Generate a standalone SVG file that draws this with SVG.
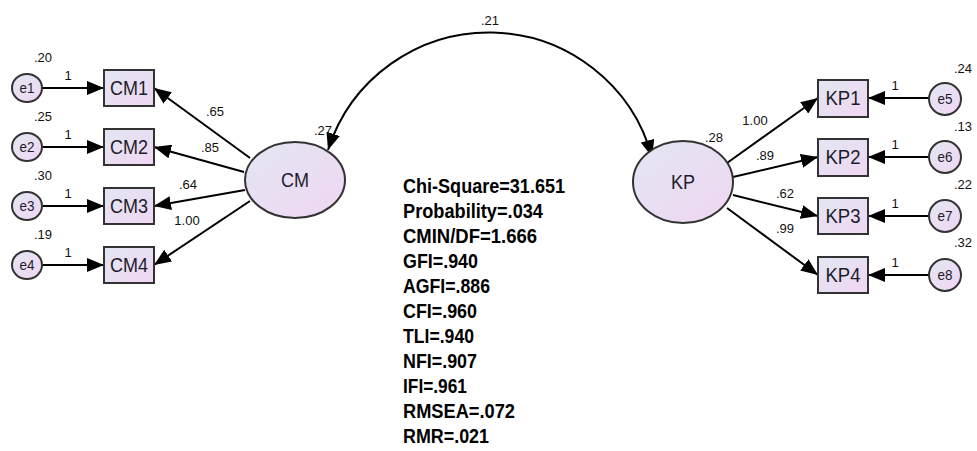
<svg xmlns="http://www.w3.org/2000/svg" width="977" height="451" viewBox="0 0 977 451">
<defs>
<linearGradient id="g" x1="0" y1="0" x2="1" y2="1">
<stop offset="0" stop-color="#e2e7f2"/>
<stop offset="1" stop-color="#f0d6f2"/>
</linearGradient>
<marker id="ah" markerUnits="userSpaceOnUse" markerWidth="18" markerHeight="14" refX="17" refY="7" orient="auto-start-reverse">
<path d="M0,0 L17,7 L0,14 z" fill="#000"/>
</marker>
<style>
.n{fill:url(#g);stroke:#333;stroke-width:2}
.t{font-family:"Liberation Sans",Arial,sans-serif;font-size:20px;fill:#1c1c2c;text-anchor:middle}
.e{font-family:"Liberation Sans",Arial,sans-serif;font-size:15px;fill:#1c1c2c;text-anchor:middle}
.l{font-family:"Liberation Sans",Arial,sans-serif;font-size:13px;fill:#111;text-anchor:middle}
.s{font-family:"Liberation Sans",Arial,sans-serif;font-size:20px;font-weight:bold;fill:#000}
.c{stroke:#000;stroke-width:2;fill:none;marker-end:url(#ah)}
</style>
</defs>
<rect width="977" height="451" fill="#fff"/>
<g id="connectors">
<path class="c" d="M328,150 A169,169 0 0 1 652,157" marker-start="url(#ah)"/>
<line class="c" x1="42" y1="88" x2="104" y2="88"/>
<line class="c" x1="42" y1="147" x2="104" y2="147"/>
<line class="c" x1="42" y1="206" x2="104" y2="206"/>
<line class="c" x1="42" y1="265" x2="104" y2="265"/>
<line class="c" x1="250" y1="158" x2="154" y2="88"/>
<line class="c" x1="244" y1="172" x2="154" y2="147"/>
<line class="c" x1="245" y1="190" x2="154" y2="206"/>
<line class="c" x1="250" y1="201" x2="154" y2="265"/>
<line class="c" x1="727" y1="163" x2="818" y2="98"/>
<line class="c" x1="733" y1="177" x2="818" y2="157"/>
<line class="c" x1="733" y1="195" x2="818" y2="216"/>
<line class="c" x1="727" y1="208" x2="818" y2="275"/>
<line class="c" x1="929" y1="98" x2="868" y2="98"/>
<line class="c" x1="929" y1="157" x2="868" y2="157"/>
<line class="c" x1="929" y1="216" x2="868" y2="216"/>
<line class="c" x1="929" y1="275" x2="868" y2="275"/>
</g>
<g id="labels">
<text class="l" x="490" y="25">.21</text>
<text class="l" x="43" y="62">.20</text>
<text class="l" x="43" y="121">.25</text>
<text class="l" x="43" y="180">.30</text>
<text class="l" x="43" y="239">.19</text>
<text class="l" x="68" y="80">1</text>
<text class="l" x="68" y="139">1</text>
<text class="l" x="68" y="198">1</text>
<text class="l" x="68" y="257">1</text>
<text class="l" x="215" y="116">.65</text>
<text class="l" x="210" y="152">.85</text>
<text class="l" x="188" y="189">.64</text>
<text class="l" x="187" y="225">1.00</text>
<text class="l" x="323" y="135">.27</text>
<text class="l" x="714" y="142">.28</text>
<text class="l" x="755" y="125">1.00</text>
<text class="l" x="765" y="160">.89</text>
<text class="l" x="785" y="198">.62</text>
<text class="l" x="785" y="233">.99</text>
<text class="l" x="963" y="73">.24</text>
<text class="l" x="963" y="131">.13</text>
<text class="l" x="963" y="189">.22</text>
<text class="l" x="963" y="247">.32</text>
<text class="l" x="895" y="90">1</text>
<text class="l" x="895" y="149">1</text>
<text class="l" x="895" y="208">1</text>
<text class="l" x="895" y="267">1</text>
</g>
<g id="e1"><ellipse class="n" cx="27" cy="88" rx="15" ry="14"/><text class="e" x="27" y="93" textLength="15" lengthAdjust="spacingAndGlyphs">e1</text></g>
<g id="e2"><ellipse class="n" cx="27" cy="147" rx="15" ry="14"/><text class="e" x="27" y="152" textLength="15" lengthAdjust="spacingAndGlyphs">e2</text></g>
<g id="e3"><ellipse class="n" cx="27" cy="206" rx="15" ry="14"/><text class="e" x="27" y="211" textLength="15" lengthAdjust="spacingAndGlyphs">e3</text></g>
<g id="e4"><ellipse class="n" cx="27" cy="265" rx="15" ry="14"/><text class="e" x="27" y="270" textLength="15" lengthAdjust="spacingAndGlyphs">e4</text></g>
<g id="CM1"><rect class="n" x="104" y="70" width="50" height="36"/><text class="t" x="129" y="95" textLength="38" lengthAdjust="spacingAndGlyphs">CM1</text></g>
<g id="CM2"><rect class="n" x="104" y="129" width="50" height="36"/><text class="t" x="129" y="154" textLength="38" lengthAdjust="spacingAndGlyphs">CM2</text></g>
<g id="CM3"><rect class="n" x="104" y="188" width="50" height="36"/><text class="t" x="129" y="213" textLength="38" lengthAdjust="spacingAndGlyphs">CM3</text></g>
<g id="CM4"><rect class="n" x="104" y="247" width="50" height="36"/><text class="t" x="129" y="272" textLength="38" lengthAdjust="spacingAndGlyphs">CM4</text></g>
<g id="CM"><ellipse class="n" cx="295" cy="180" rx="50" ry="38"/><text class="t" x="295" y="187" textLength="28" lengthAdjust="spacingAndGlyphs">CM</text></g>
<g id="KP"><ellipse class="n" cx="683" cy="182" rx="50" ry="41"/><text class="t" x="683" y="189" textLength="24" lengthAdjust="spacingAndGlyphs">KP</text></g>
<g id="KP1"><rect class="n" x="818" y="80" width="50" height="37"/><text class="t" x="843" y="105" textLength="35" lengthAdjust="spacingAndGlyphs">KP1</text></g>
<g id="KP2"><rect class="n" x="818" y="139" width="50" height="37"/><text class="t" x="843" y="164" textLength="35" lengthAdjust="spacingAndGlyphs">KP2</text></g>
<g id="KP3"><rect class="n" x="818" y="198" width="50" height="36"/><text class="t" x="843" y="223" textLength="35" lengthAdjust="spacingAndGlyphs">KP3</text></g>
<g id="KP4"><rect class="n" x="818" y="257" width="50" height="36"/><text class="t" x="843" y="282" textLength="35" lengthAdjust="spacingAndGlyphs">KP4</text></g>
<g id="e5"><ellipse class="n" cx="945" cy="99" rx="16" ry="16"/><text class="e" x="945" y="104" textLength="15" lengthAdjust="spacingAndGlyphs">e5</text></g>
<g id="e6"><ellipse class="n" cx="945" cy="157" rx="16" ry="16"/><text class="e" x="945" y="162" textLength="15" lengthAdjust="spacingAndGlyphs">e6</text></g>
<g id="e7"><ellipse class="n" cx="945" cy="216" rx="16" ry="16"/><text class="e" x="945" y="221" textLength="15" lengthAdjust="spacingAndGlyphs">e7</text></g>
<g id="e8"><ellipse class="n" cx="945" cy="275" rx="16" ry="16"/><text class="e" x="945" y="280" textLength="15" lengthAdjust="spacingAndGlyphs">e8</text></g>
<g id="stats">
<text class="s" x="403" y="193" textLength="162" lengthAdjust="spacingAndGlyphs">Chi-Square=31.651</text>
<text class="s" x="403" y="218" textLength="140" lengthAdjust="spacingAndGlyphs">Probability=.034</text>
<text class="s" x="403" y="243" textLength="134" lengthAdjust="spacingAndGlyphs">CMIN/DF=1.666</text>
<text class="s" x="403" y="268" textLength="75" lengthAdjust="spacingAndGlyphs">GFI=.940</text>
<text class="s" x="403" y="293" textLength="87" lengthAdjust="spacingAndGlyphs">AGFI=.886</text>
<text class="s" x="403" y="318" textLength="74" lengthAdjust="spacingAndGlyphs">CFI=.960</text>
<text class="s" x="403" y="343" textLength="71" lengthAdjust="spacingAndGlyphs">TLI=.940</text>
<text class="s" x="403" y="368" textLength="74" lengthAdjust="spacingAndGlyphs">NFI=.907</text>
<text class="s" x="403" y="393" textLength="64" lengthAdjust="spacingAndGlyphs">IFI=.961</text>
<text class="s" x="403" y="418" textLength="112" lengthAdjust="spacingAndGlyphs">RMSEA=.072</text>
<text class="s" x="403" y="443" textLength="86" lengthAdjust="spacingAndGlyphs">RMR=.021</text>
</g>
</svg>
